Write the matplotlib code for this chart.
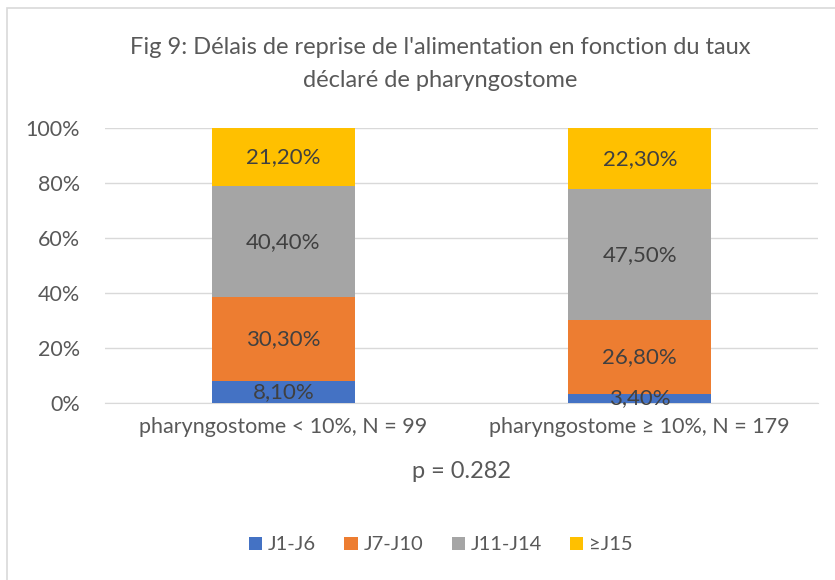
import matplotlib.pyplot as plt
import numpy as np
from matplotlib.patches import Rectangle

plt.rcParams['font.family'] = ['Lato', 'DejaVu Sans']

categories = ["pharyngostome < 10%, N = 99", "pharyngostome ≥ 10%, N = 179"]
series = ["J1-J6", "J7-J10", "J11-J14", "≥J15"]
values = {
    "J1-J6": [8.1, 3.4],
    "J7-J10": [30.3, 26.8],
    "J11-J14": [40.4, 47.5],
    "≥J15": [21.2, 22.3],
}
colors = ["#4472C4", "#ED7D31", "#A5A5A5", "#FFC000"]

fig = plt.figure(figsize=(8.35, 5.8), dpi=100)
W, H = 835, 580
ax = fig.add_axes([105 / W, 1 - 403 / H, (818 - 105) / W, (403 - 128) / H])

# chart border (right and bottom edges run off the image)
fig.patches.append(Rectangle((7 / W, -5 / H), 1, 1 - 3 / H,
                             transform=fig.transFigure, fill=False,
                             edgecolor="#D9D9D9", linewidth=1.2))

x = np.arange(len(categories))
bottom = np.zeros(len(categories))
for name, c in zip(series, colors):
    v = np.array(values[name])
    ax.bar(x, v, 0.4, bottom=bottom, color=c, label=name, zorder=3)
    for xi, vi, bi in zip(x, v, bottom):
        ax.text(xi, bi + vi / 2, f"{vi:.2f}%".replace(".", ","), ha="center",
                va="center", fontsize=16, color="#404040", zorder=4)
    bottom += v

ax.set_xlim(-0.5, 1.5)
ax.set_ylim(0, 100)
ax.set_yticks(np.arange(0, 101, 20))
ax.set_yticklabels([f"{t}%" for t in range(0, 101, 20)])
ax.set_xticks(x)
ax.set_xticklabels(categories)
ax.tick_params(axis="both", length=0, labelsize=15.5, labelcolor="#595959")
ax.tick_params(axis="x", pad=10)
ax.tick_params(axis="y", pad=18)
ax.grid(axis="y", color="#D9D9D9", linewidth=1, zorder=0)
for s in ["top", "right", "left"]:
    ax.spines[s].set_visible(False)
ax.spines["bottom"].set_color("#D9D9D9")

fig.text(440 / W, 1 - 48 / H, "Fig 9: Délais de reprise de l'alimentation en fonction du taux",
         ha="center", va="center", fontsize=17, color="#595959")
fig.text(440 / W, 1 - 80 / H, "déclaré de pharyngostome",
         ha="center", va="center", fontsize=17, color="#595959")
fig.text(462 / W, 1 - 472 / H, "p = 0.282", ha="center", va="center",
         fontsize=17, color="#595959")

fig.legend(loc="center", bbox_to_anchor=(441 / W, 1 - 545 / H), ncol=4,
           frameon=False, fontsize=14.5, labelcolor="#595959",
           handlelength=0.65, handleheight=0.65, handletextpad=0.3, columnspacing=1.4)

fig.savefig("out.png", dpi=100)
